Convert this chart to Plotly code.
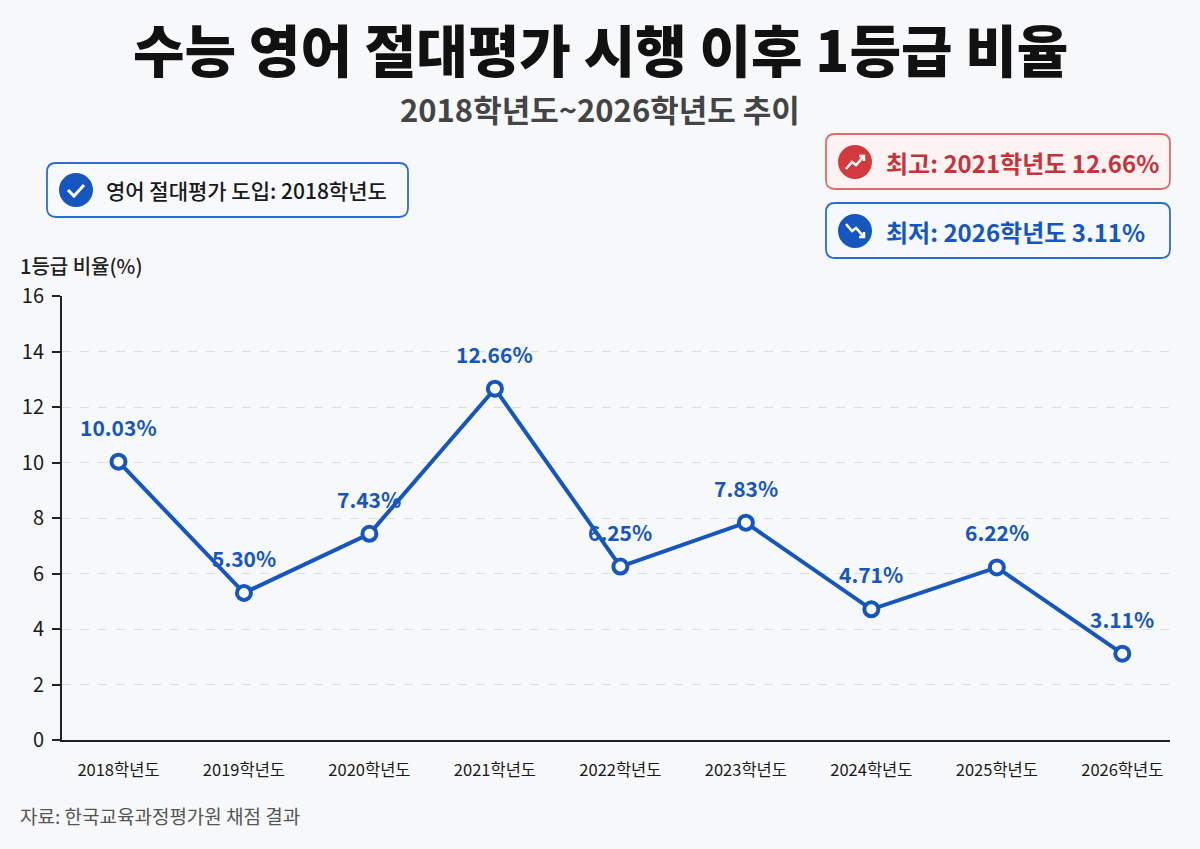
import plotly.graph_objects as go

# data
years = ["2018학년도", "2019학년도", "2020학년도", "2021학년도", "2022학년도",
         "2023학년도", "2024학년도", "2025학년도", "2026학년도"]
ratio = [10.03, 5.30, 7.43, 12.66, 6.25, 7.83, 4.71, 6.22, 3.11]
y_ticks = [0, 2, 4, 6, 8, 10, 12, 14, 16]

FONT = "Noto Sans CJK KR"
BLUE = "#1656bf"
RED = "#c7333b"
W, H = 1200, 849
L, R, T, B = 62, 30, 296, 109


def px(x):
    return (x - L) / (W - L - R)


def py(y):
    return (H - B - y) / (H - T - B)


fig = go.Figure()
fig.add_trace(go.Scatter(
    x=years, y=ratio, mode="lines+markers",
    line=dict(color=BLUE, width=4),
    marker=dict(size=14, color="white", line=dict(color=BLUE, width=4)),
    hoverinfo="skip", showlegend=False,
))

annotations = []
for yr, v in zip(years, ratio):
    annotations.append(dict(x=yr, y=v, text=f"{v:.2f}%", showarrow=False, yshift=35,
                            font=dict(family=FONT, size=21, color=BLUE, weight=700)))


def note(x, y, text, size, color, weight=400, xanchor="left"):
    return dict(x=px(x), y=py(y), xref="paper", yref="paper", text=text, showarrow=False,
                xanchor=xanchor, yanchor="middle",
                font=dict(family=FONT, size=size, color=color, weight=weight))


# titles and notes
annotations += [
    note(W / 2, 47, "수능 영어 절대평가 시행 이후 1등급 비율", 56, "#111111", 900, "center"),
    note(W / 2, 108, "2018학년도~2026학년도 추이", 31, "#444444", 700, "center"),
    note(18, 265, "1등급 비율(%)", 20, "#222222", 500),
    note(18, 815, "자료: 한국교육과정평가원 채점 결과", 19, "#555555"),
    note(104, 190, "영어 절대평가 도입: 2018학년도", 21, "#1a1a1a", 500),
    note(884, 162, "최고: 2021학년도 12.66%", 24, RED, 700),
    note(884, 231, "최저: 2026학년도 3.11%", 24, BLUE, 700),
]


def box(x0, y0, x1, y1, line, fill, r=9):
    # rounded rectangle drawn as a path in paper units
    a0, a1, b0, b1 = px(x0), px(x1), py(y1), py(y0)
    rx, ry = r / (W - L - R), r / (H - T - B)
    d = (f"M {a0 + rx},{b0} L {a1 - rx},{b0} Q {a1},{b0} {a1},{b0 + ry} "
         f"L {a1},{b1 - ry} Q {a1},{b1} {a1 - rx},{b1} L {a0 + rx},{b1} "
         f"Q {a0},{b1} {a0},{b1 - ry} L {a0},{b0 + ry} Q {a0},{b0} {a0 + rx},{b0} Z")
    return dict(type="path", xref="paper", yref="paper", path=d,
                line=dict(color=line, width=1.8), fillcolor=fill, layer="below")


def circle(cx, cy, r, color):
    return dict(type="circle", xref="paper", yref="paper", x0=px(cx - r), x1=px(cx + r),
                y0=py(cy + r), y1=py(cy - r), line=dict(width=0), fillcolor=color)


def path(points, color, width=2.5):
    d = "M " + " L ".join(f"{px(a):.5f},{py(b):.5f}" for a, b in points)
    return dict(type="path", xref="paper", yref="paper", path=d,
                line=dict(color=color, width=width))


shapes = [
    box(47, 163, 408, 217, "#2d6bd0", "#f7f9fd"),
    box(826, 134, 1170, 189, "#e36a6a", "#fdf3f3"),
    box(826, 203, 1170, 258, "#2d6bd0", "#f5f8fd"),
    circle(76, 190, 17, BLUE),
    path([(68, 190), (74, 196), (84, 185)], "white", 3),
    circle(855, 162, 17, "#d23a3f"),
    path([(846, 169), (852, 162), (856, 165), (864, 156)], "white", 2.5),
    path([(859, 156), (864, 156), (864, 161)], "white", 2.5),
    circle(855, 231, 17, BLUE),
    path([(846, 224), (852, 231), (856, 228), (864, 237)], "white", 2.5),
    path([(859, 237), (864, 237), (864, 232)], "white", 2.5),
]

fig.update_layout(
    width=W, height=H,
    margin=dict(l=L, r=R, t=T, b=B),
    paper_bgcolor="#f7f8fa", plot_bgcolor="#f7f8fa",
    font=dict(family=FONT, color="#1a1a1a"),
    annotations=annotations, shapes=shapes,
    xaxis=dict(showgrid=False, showline=True, linecolor="#222222", linewidth=2,
               range=[-0.45, 8.38], ticks="", ticklabelstandoff=14,
               tickfont=dict(family=FONT, size=16.5, color="#1a1a1a")),
    yaxis=dict(range=[0, 16], tickvals=y_ticks, showline=True, linecolor="#222222", linewidth=2,
               ticks="outside", ticklen=8, tickcolor="#222222", tickwidth=1.5,
               showgrid=True, gridcolor="#dcdde0", griddash="dash", gridwidth=1,
               zeroline=False, ticklabelstandoff=4,
               tickfont=dict(family=FONT, size=20, color="#1a1a1a")),
)

fig.write_html("out.html", config={"displayModeBar": False},
               post_script="document.body.style.margin='0';")
